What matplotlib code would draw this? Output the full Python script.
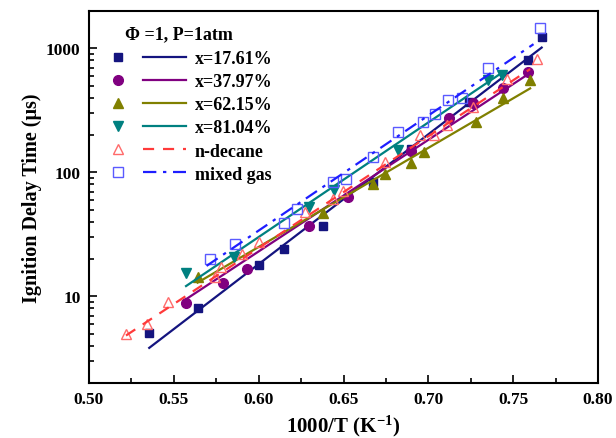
import numpy as np
import matplotlib
matplotlib.use("Agg")
import matplotlib.pyplot as plt
from matplotlib.lines import Line2D
from matplotlib.legend_handler import HandlerBase
from matplotlib.ticker import MultipleLocator, LogLocator, NullFormatter, FixedLocator

plt.rcParams['font.family'] = ['Liberation Serif', 'DejaVu Serif']
plt.rcParams['font.weight'] = 'bold'
plt.rcParams['mathtext.fontset'] = 'custom'
plt.rcParams['mathtext.rm'] = 'Liberation Serif:bold'
plt.rcParams['mathtext.default'] = 'rm'

# ---- data ----
x17 = [0.5355, 0.564, 0.600, 0.615, 0.6377, 0.6676, 0.690, 0.724, 0.7585, 0.7668]
y17 = [5.1, 8.0, 17.8, 24.0, 37.1, 84, 155, 370, 805, 1245]
fx17 = [0.5355, 0.7668]
fy17 = [3.84, 1014]

x37 = [0.5572, 0.5788, 0.5929, 0.6298, 0.6524, 0.6898, 0.7123, 0.7265, 0.7438, 0.7589]
y37 = [8.9, 12.9, 16.6, 37.1, 63.7, 148, 275, 359, 475, 640]
fx37 = [0.5578, 0.758]
fy37 = [9.6, 608]

x62 = [0.564, 0.6377, 0.6674, 0.6747, 0.6898, 0.6972, 0.7281, 0.7438, 0.7599]
y62 = [14.2, 46.8, 80, 97, 119, 147, 255, 394, 553]
fx62 = [0.564, 0.760]
fy62 = [12.9, 475]

x81 = [0.5572, 0.5856, 0.6298, 0.6446, 0.6819, 0.7349, 0.7432]
y81 = [15.3, 20.9, 52.3, 72.6, 152, 553, 615]
fx81 = [0.5572, 0.7442]
fy81 = [12.1, 647]

xdec = [0.5218, 0.534, 0.5467, 0.5743, 0.5778, 0.590, 0.6004, 0.6273, 0.644, 0.6499,
        0.6745, 0.695, 0.7035, 0.7108, 0.7265, 0.7462, 0.7639]
ydec = [5.0, 6.0, 9.0, 14.2, 17.1, 21.9, 27.2, 47.7, 61, 71,
        121, 199, 199, 239, 337, 571, 818]
fxdec = [0.5218, 0.760]
fydec = [4.83, 680]

xmix = [0.5713, 0.586, 0.6151, 0.6224, 0.644, 0.6515, 0.6672, 0.6819, 0.6966, 0.7039,
        0.7117, 0.7196, 0.7353, 0.7658]
ymix = [19.9, 26.4, 39.0, 50.6, 83.4, 88.6, 133, 211, 255, 298,
        381, 401, 689, 1452]
fxmix = [0.5693, 0.762]
fymix = [17.6, 1080]

labels = ['x=17.61%', 'x=37.97%', 'x=62.15%', 'x=81.04%', 'n-decane', 'mixed gas']
xticks = [0.50, 0.55, 0.60, 0.65, 0.70, 0.75, 0.80]
yticks = [10, 100, 1000]

# ---- styles ----
c17, c37, c62, c81 = '#14147F', '#800080', '#808000', '#008080'
cdec_m, cdec_l = '#FF6A6A', '#FF3A3A'
cmix_m, cmix_l = '#5A5AFF', '#1E1EFF'

fig = plt.figure(figsize=(6.16, 4.39), dpi=100)
ax = fig.add_axes([89/616, 1-384/439, (598-89)/616, (384-12)/439])
ax.set_yscale('log')

series = [
    (x17, y17, fx17, fy17, dict(marker='s', color=c17, mfc=c17, mec=c17, ms=6), dict(color=c17, ls='-')),
    (x37, y37, fx37, fy37, dict(marker='o', color=c37, mfc=c37, mec=c37, ms=7), dict(color=c37, ls='-')),
    (x62, y62, fx62, fy62, dict(marker='^', color=c62, mfc=c62, mec=c62, ms=7.5), dict(color=c62, ls='-')),
    (x81, y81, fx81, fy81, dict(marker='v', color=c81, mfc=c81, mec=c81, ms=7.5), dict(color=c81, ls='-')),
    (xdec, ydec, fxdec, fydec, dict(marker='^', color=cdec_m, mfc='none', mec=cdec_m, ms=7.5, mew=1.0), dict(color=cdec_l, ls=(0, (5, 4)))),
    (xmix, ymix, fxmix, fymix, dict(marker='s', color=cmix_m, mfc='none', mec=cmix_m, ms=7, mew=1.0), dict(color=cmix_l, ls=(0, (6, 3, 1.5, 3)))),
]

handles = []
for xs, ys, fx, fy, mk, ln in series:
    m, = ax.plot(xs, ys, ls='none', **mk)
    l, = ax.plot(fx, fy, lw=1.6, **ln)
    handles.append((m, l))


class MarkerLineHandler(HandlerBase):
    def create_artists(self, legend, orig_handle, xdescent, ydescent, width, height, fontsize, trans):
        mh, lh = orig_handle
        y = (height - ydescent) / 2.0
        x0 = -xdescent
        m = Line2D([x0 + 0.107 * width], [y])
        m.update_from(mh)
        m.set_linestyle('none')
        l = Line2D([x0 + 0.436 * width, x0 + width], [y, y])
        l.update_from(lh)
        l.set_marker('none')
        m.set_transform(trans)
        l.set_transform(trans)
        return [l, m]


ax.legend(handles, labels, handler_map={tuple: MarkerLineHandler()},
          loc='upper left', bbox_to_anchor=((110-89)/509, (384-51)/372),
          frameon=False, borderpad=0, borderaxespad=0, handlelength=4.2,
          handletextpad=0.5, labelspacing=0.34, prop={'size': 13, 'weight': 'bold'})

ax.text((125-89)/509, (384-35)/372, 'Φ =1, P=1atm', transform=ax.transAxes,
        fontsize=13, fontweight='bold', ha='left', va='center')

ax.set_xlim(0.50, 0.80)
ax.set_ylim(2, 2000)
ax.xaxis.set_major_locator(FixedLocator(xticks))
ax.xaxis.set_minor_locator(MultipleLocator(0.025))
ax.set_xticklabels([f'{v:.2f}' for v in xticks])
ax.yaxis.set_major_locator(FixedLocator(yticks))
ax.set_yticklabels([str(v) for v in yticks])
ax.yaxis.set_minor_locator(LogLocator(base=10, subs=np.arange(2, 10)))
ax.yaxis.set_minor_formatter(NullFormatter())

ax.tick_params(which='both', direction='in', top=False, right=False, width=1.2,
               labelsize=12.5, pad=6)
ax.tick_params(which='major', length=6)
ax.tick_params(which='minor', length=3.5)
for lab in ax.get_xticklabels() + ax.get_yticklabels():
    lab.set_fontweight('bold')
for s in ax.spines.values():
    s.set_linewidth(1.5)

ax.set_xlabel('1000/T (K$^{-1}$)', fontsize=15, fontweight='bold', labelpad=4)
ax.set_ylabel('Ignition Delay Time (μs)', fontsize=14.5, fontweight='bold', labelpad=3)

fig.savefig('out.png', dpi=100)
